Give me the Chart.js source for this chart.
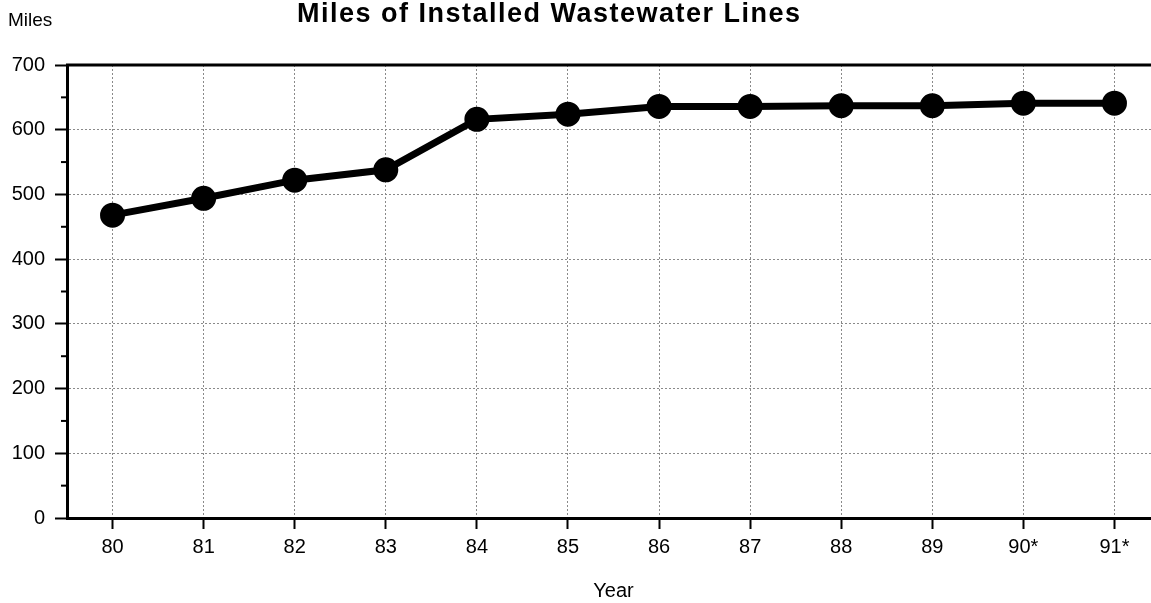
<!DOCTYPE html>
<html>
<head>
<meta charset="utf-8">
<script src="https://cdn.jsdelivr.net/npm/chart.js@4"></script>
<style>
  html, body { margin: 0; padding: 0; background: #fff; overflow: hidden; }
  #wrap { width: 1160px; height: 603px; }
</style>
</head>
<body>
<div id="wrap"><canvas id="milesChart" width="1160" height="603"></canvas></div>
<script>
const years = ["80", "81", "82", "83", "84", "85", "86", "87", "88", "89", "90*", "91*"];
const miles = [468, 494, 522, 538, 616, 624, 636, 636, 637, 637, 641, 641];
const yTicks = [0, 100, 200, 300, 400, 500, 600, 700];
const minorTicks = [50, 150, 250, 350, 450, 550, 650];

const titleText = "Miles of Installed Wastewater Lines";
const unitText = "Miles";
const FONT = "'Liberation Sans', Arial, Helvetica, sans-serif";

// titles, top frame line and the small 50-mile ticks
const decor = {
  id: "decor",
  afterDraw(chart) {
    const ctx = chart.ctx;
    const area = chart.chartArea;
    const y = chart.scales.y;

    ctx.save();
    ctx.fillStyle = "#000";
    ctx.textBaseline = "middle";

    ctx.font = "bold 27px " + FONT;
    ctx.letterSpacing = "1.5px";
    ctx.textAlign = "left";
    ctx.fillText(titleText, 297, 15);

    ctx.font = "19px " + FONT;
    ctx.letterSpacing = "0px";
    ctx.fillText(unitText, 8, 21);

    // solid top frame
    ctx.strokeStyle = "#000";
    ctx.lineWidth = 3;
    ctx.beginPath();
    ctx.moveTo(area.left - 1, area.top);
    ctx.lineTo(area.right, area.top);
    ctx.stroke();

    // minor ticks
    ctx.lineWidth = 2;
    minorTicks.forEach(v => {
      const py = y.getPixelForValue(v);
      ctx.beginPath();
      ctx.moveTo(area.left - 6, py);
      ctx.lineTo(area.left, py);
      ctx.stroke();
    });
    ctx.restore();
  }
};

new Chart(document.getElementById("milesChart"), {
  type: "line",
  data: {
    labels: years,
    datasets: [{
      data: miles,
      borderColor: "#000",
      borderWidth: 7,
      backgroundColor: "#000",
      pointBackgroundColor: "#000",
      pointBorderColor: "#000",
      pointRadius: 9,
      tension: 0,
      fill: false
    }]
  },
  options: {
    responsive: false,
    animation: false,
    layout: { autoPadding: false, padding: { top: 65, left: 0, right: 0, bottom: 0 } },
    plugins: {
      legend: { display: false },
      title: { display: false },
      tooltip: { enabled: false }
    },
    scales: {
      x: {
        type: "category",
        offset: true,
        afterFit(s) { s.height = 85; },
        grid: {
          color: "#8a8a8a",
          lineWidth: 1,
          tickLength: 11,
          tickColor: "#000",
          tickWidth: 2,
          tickBorderDash: []
        },
        border: { color: "#000", width: 3, dash: [2, 2] },
        ticks: {
          color: "#000",
          padding: 6,
          maxRotation: 0,
          font: { family: FONT, size: 20 }
        },
        title: {
          display: true,
          text: "Year",
          color: "#000",
          padding: { top: 0, bottom: 0 },
          font: { family: FONT, size: 20 }
        }
      },
      y: {
        min: 0,
        max: 700,
        afterFit(s) { s.width = 67; },
        afterBuildTicks(s) { s.ticks = yTicks.map(v => ({ value: v })); },
        grid: {
          color: "#8a8a8a",
          lineWidth: 1,
          tickLength: 12,
          tickColor: "#000",
          tickWidth: 2,
          tickBorderDash: []
        },
        border: { color: "#000", width: 3, dash: [2, 2] },
        ticks: {
          color: "#000",
          padding: 10,
          font: { family: FONT, size: 20 }
        }
      }
    }
  },
  plugins: [decor]
});
</script>
</body>
</html>
